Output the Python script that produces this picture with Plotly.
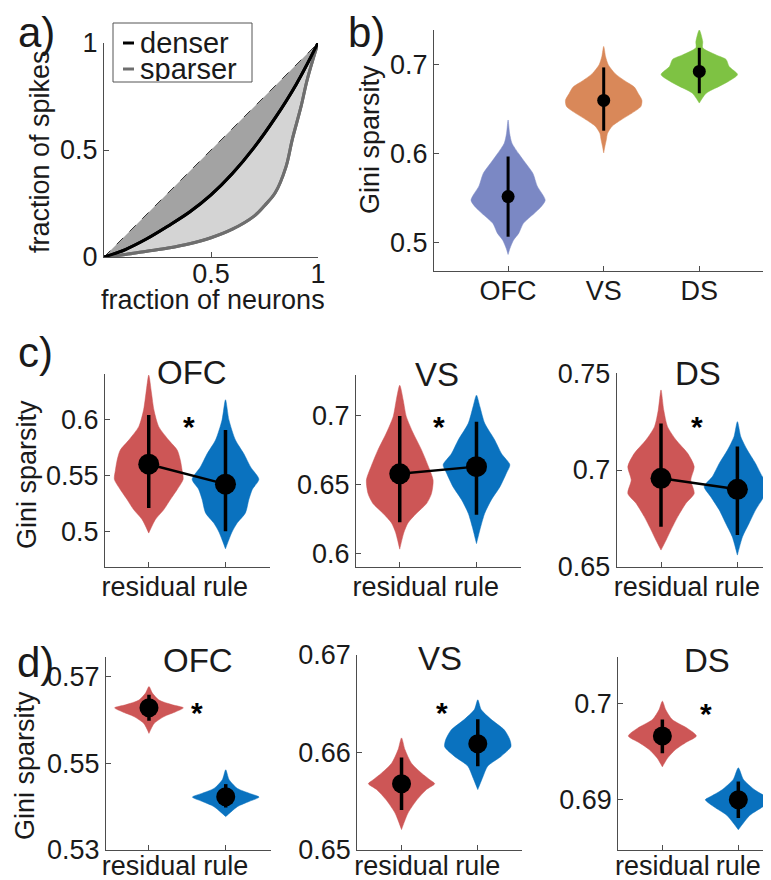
import plotly.graph_objects as go

# The page body has an 8px margin, so the figure is sized and laid out to
# land on the reference pixel grid once that offset is applied.
OFF = 8
FW, FH = 771 - OFF, 880 - OFF
FONT = "Liberation Sans, Arial, sans-serif"
TXT = "#1a1a1a"
AXC = "#4d4d4d"
RED = "#cd5656"
BLUE = "#0a72bf"
B_COLORS = ["#7b88c4", "#d98859", "#7ec243"]

# ---------------- panel a : Lorenz curves ----------------
frac_neurons = [0, 0.1, 0.2, 0.3, 0.4, 0.5, 0.6, 0.7, 0.8, 0.9, 1.0]
denser_spikes = [0, 0.035, 0.085, 0.145, 0.21, 0.29, 0.39, 0.51, 0.65, 0.81, 1.0]
sparse_neurons = [0, 0.1, 0.2, 0.3, 0.4, 0.5, 0.6, 0.7, 0.75, 0.8, 0.85, 0.88, 0.92, 0.95, 1.0]
sparser_spikes = [0, 0.012, 0.027, 0.042, 0.062, 0.09, 0.13, 0.19, 0.24, 0.3, 0.42, 0.55, 0.70, 0.83, 1.0]
equality_line = [0, 1]

# ---------------- panel b : Gini per region ----------------
regions = ["OFC", "VS", "DS"]
b_median = [0.552, 0.660, 0.6925]
b_low = [0.507, 0.626, 0.668]
b_high = [0.597, 0.697, 0.719]
b_ofc_vals = [0.638, 0.623, 0.612, 0.600, 0.590, 0.578, 0.564, 0.548, 0.540, 0.533, 0.522, 0.511, 0.503, 0.494, 0.487]
b_ofc_dens = [0, 0.04, 0.10, 0.28, 0.45, 0.65, 0.76, 0.97, 0.85, 0.68, 0.40, 0.28, 0.14, 0.05, 0]
b_vs_vals = [0.7206, 0.709, 0.700, 0.690, 0.682, 0.675, 0.668, 0.660, 0.653, 0.646, 0.638, 0.631, 0.623, 0.616, 0.608, 0.601]
b_vs_dens = [0, 0.05, 0.12, 0.30, 0.55, 0.80, 0.90, 1.0, 0.97, 0.75, 0.45, 0.22, 0.10, 0.07, 0.03, 0]
b_ds_vals = [0.739, 0.726, 0.719, 0.711, 0.706, 0.698, 0.689, 0.681, 0.676, 0.668, 0.657]
b_ds_dens = [0, 0.09, 0.09, 0.44, 0.70, 0.78, 1.0, 0.75, 0.53, 0.18, 0]

# ---------------- panel c : full population ----------------
conditions = ["residual", "rule"]
c_med_res = [0.5605, 0.6575, 0.6957]
c_lo_res = [0.5214, 0.6224, 0.6707]
c_hi_res = [0.6045, 0.6993, 0.7241]
c_med_rule = [0.5427, 0.6627, 0.6900]
c_lo_rule = [0.5006, 0.6279, 0.6664]
c_hi_rule = [0.5911, 0.6952, 0.7121]

c_ofc_res_vals = [0.640, 0.624, 0.609, 0.594, 0.582, 0.573, 0.564, 0.555, 0.547, 0.538, 0.529, 0.520, 0.511, 0.499]
c_ofc_res_dens = [0, 0.08, 0.15, 0.29, 0.58, 0.83, 0.92, 0.97, 1.0, 0.83, 0.63, 0.44, 0.19, 0]
c_ofc_rule_vals = [0.618, 0.600, 0.582, 0.570, 0.558, 0.547, 0.538, 0.529, 0.517, 0.508, 0.500, 0.485]
c_ofc_rule_dens = [0, 0.10, 0.29, 0.53, 0.73, 0.97, 0.78, 0.68, 0.58, 0.34, 0.19, 0]
c_vs_res_vals = [0.7216, 0.711, 0.699, 0.687, 0.675, 0.663, 0.653, 0.643, 0.636, 0.629, 0.622, 0.615, 0.603]
c_vs_res_dens = [0, 0.10, 0.19, 0.39, 0.63, 0.83, 0.97, 0.92, 0.78, 0.49, 0.24, 0.12, 0]
c_vs_rule_vals = [0.7144, 0.706, 0.694, 0.682, 0.672, 0.664, 0.658, 0.648, 0.639, 0.629, 0.619, 0.607]
c_vs_rule_dens = [0, 0.10, 0.24, 0.53, 0.73, 0.97, 0.87, 0.68, 0.44, 0.24, 0.12, 0]
c_ds_res_vals = [0.7414, 0.731, 0.7224, 0.7155, 0.7086, 0.7017, 0.6948, 0.6879, 0.6828, 0.6759, 0.669, 0.6638, 0.6586]
c_ds_res_dens = [0, 0.08, 0.19, 0.44, 0.78, 0.97, 0.87, 0.97, 0.73, 0.49, 0.29, 0.15, 0]
c_ds_rule_vals = [0.725, 0.7172, 0.7103, 0.7034, 0.6966, 0.6914, 0.6862, 0.6793, 0.6724, 0.6655, 0.656]
c_ds_rule_dens = [0, 0.10, 0.29, 0.53, 0.73, 0.97, 0.78, 0.53, 0.34, 0.15, 0]
c_star = [0.601, 0.6976, 0.7267]

# ---------------- panel d : bootstrap of means ----------------
d_med_res = [0.5628, 0.6568, 0.6966]
d_lo_res = [0.5598, 0.6541, 0.6948]
d_hi_res = [0.5658, 0.6595, 0.6983]
d_med_rule = [0.5423, 0.6609, 0.6900]
d_lo_rule = [0.5398, 0.6586, 0.6881]
d_hi_rule = [0.5452, 0.6634, 0.6919]

d_ofc_res_vals = [0.5677, 0.5662, 0.5646, 0.5635, 0.5628, 0.5619, 0.5608, 0.5592, 0.5569]
d_ofc_res_dens = [0, 0.10, 0.29, 0.68, 1.0, 0.78, 0.44, 0.15, 0]
d_ofc_rule_vals = [0.5485, 0.5462, 0.5442, 0.5431, 0.5422, 0.5412, 0.5400, 0.5377]
d_ofc_rule_dens = [0, 0.10, 0.34, 0.68, 0.97, 0.68, 0.34, 0]
d_vs_res_vals = [0.6615, 0.6603, 0.6589, 0.6579, 0.6572, 0.6568, 0.6562, 0.6551, 0.6538, 0.6521]
d_vs_res_dens = [0, 0.10, 0.29, 0.58, 0.83, 0.97, 0.73, 0.44, 0.19, 0]
d_vs_rule_vals = [0.6654, 0.6644, 0.6634, 0.6623, 0.6613, 0.6606, 0.6596, 0.6586, 0.6575, 0.6562]
d_vs_rule_dens = [0, 0.10, 0.39, 0.78, 0.94, 0.97, 0.68, 0.29, 0.15, 0]
d_ds_res_vals = [0.7002, 0.6993, 0.6983, 0.6974, 0.6966, 0.6959, 0.6952, 0.6943, 0.6934]
d_ds_res_dens = [0, 0.10, 0.29, 0.73, 1.0, 0.68, 0.39, 0.15, 0]
d_ds_rule_vals = [0.6933, 0.6921, 0.6910, 0.6903, 0.6900, 0.6893, 0.6884, 0.6876, 0.6869]
d_ds_rule_dens = [0, 0.15, 0.49, 0.83, 0.97, 0.73, 0.34, 0.15, 0]
d_star = [0.5635, 0.6649, 0.6998]

star_x_c = [1.53, 1.51, 1.47]
star_x_d = [1.62, 1.53, 1.58]

# tick labels
a_ticks = [0, 0.5, 1]
b_yticks = [0.5, 0.6, 0.7]
c_yticks = [[0.5, 0.55, 0.6], [0.6, 0.65, 0.7], [0.65, 0.7, 0.75]]
d_yticks = [[0.53, 0.55, 0.57], [0.65, 0.66, 0.67], [0.69, 0.7]]


def px(x):
    return min(1.0, (x - OFF) / FW)


def py(y):
    return 1 - (y - OFF) / FH


fig = go.Figure()


def violin(xc, vals, dens, half, color, xa, ya):
    xs = [xc + d * half for d in dens] + [xc - d * half for d in reversed(dens)]
    ys = list(vals) + list(reversed(vals))
    fig.add_trace(go.Scatter(x=xs, y=ys, mode="lines", fill="toself", fillcolor=color,
                             line=dict(color=color, width=0.5, shape="spline", smoothing=0.7),
                             xaxis=xa, yaxis=ya, showlegend=False, hoverinfo="skip"))


def interval(xc, lo, hi, width, xa, ya):
    fig.add_trace(go.Scatter(x=[xc, xc], y=[lo, hi], mode="lines",
                             line=dict(color="black", width=width),
                             xaxis=xa, yaxis=ya, showlegend=False, hoverinfo="skip"))


def dots(xs, ys, size, xa, ya, connect=False, lw=2.5):
    fig.add_trace(go.Scatter(x=xs, y=ys, mode="lines+markers" if connect else "markers",
                             marker=dict(color="black", size=size),
                             line=dict(color="black", width=lw),
                             xaxis=xa, yaxis=ya, showlegend=False, hoverinfo="skip"))


# ---- panel a traces ----
fig.add_trace(go.Scatter(x=sparse_neurons, y=sparser_spikes, mode="lines",
                         line=dict(color="#6e6e6e", width=3, shape="spline"),
                         xaxis="x", yaxis="y", showlegend=False))
fig.add_trace(go.Scatter(x=frac_neurons, y=denser_spikes, mode="lines", fill="tonexty",
                         fillcolor="#d4d4d4", line=dict(color="black", width=3, shape="spline"),
                         xaxis="x", yaxis="y", showlegend=False))
fig.add_trace(go.Scatter(x=equality_line, y=equality_line, mode="lines", fill="tonexty",
                         fillcolor="#a3a3a3", line=dict(color="#333333", width=1, dash="dash"),
                         xaxis="x", yaxis="y", showlegend=False))
fig.add_trace(go.Scatter(x=sparse_neurons, y=sparser_spikes, mode="lines",
                         line=dict(color="#6e6e6e", width=3, shape="spline"),
                         xaxis="x", yaxis="y", showlegend=False))
fig.add_trace(go.Scatter(x=frac_neurons, y=denser_spikes, mode="lines",
                         line=dict(color="black", width=3, shape="spline"),
                         xaxis="x", yaxis="y", showlegend=False))

# ---- panel b traces ----
B_HALF = 0.40
for i, (vals, dens) in enumerate([(b_ofc_vals, b_ofc_dens), (b_vs_vals, b_vs_dens), (b_ds_vals, b_ds_dens)]):
    violin(i + 1, vals, dens, B_HALF, B_COLORS[i], "x2", "y2")
for i in range(3):
    interval(i + 1, b_low[i], b_high[i], 3, "x2", "y2")
dots([1, 2, 3], b_median, 13, "x2", "y2")

# ---- panel c / d traces ----
CD_HALF = 0.448
c_shapes = [(c_ofc_res_vals, c_ofc_res_dens, c_ofc_rule_vals, c_ofc_rule_dens),
            (c_vs_res_vals, c_vs_res_dens, c_vs_rule_vals, c_vs_rule_dens),
            (c_ds_res_vals, c_ds_res_dens, c_ds_rule_vals, c_ds_rule_dens)]
d_shapes = [(d_ofc_res_vals, d_ofc_res_dens, d_ofc_rule_vals, d_ofc_rule_dens),
            (d_vs_res_vals, d_vs_res_dens, d_vs_rule_vals, d_vs_rule_dens),
            (d_ds_res_vals, d_ds_res_dens, d_ds_rule_vals, d_ds_rule_dens)]

for k in range(3):
    xa, ya = "x%d" % (3 + k), "y%d" % (3 + k)
    rv, rd, uv, ud = c_shapes[k]
    violin(1, rv, rd, CD_HALF, RED, xa, ya)
    violin(2, uv, ud, CD_HALF, BLUE, xa, ya)
    interval(1, c_lo_res[k], c_hi_res[k], 3.5, xa, ya)
    interval(2, c_lo_rule[k], c_hi_rule[k], 3.5, xa, ya)
    dots([1, 2], [c_med_res[k], c_med_rule[k]], 21, xa, ya, connect=True)

for k in range(3):
    xa, ya = "x%d" % (6 + k), "y%d" % (6 + k)
    rv, rd, uv, ud = d_shapes[k]
    violin(1, rv, rd, CD_HALF, RED, xa, ya)
    violin(2, uv, ud, CD_HALF, BLUE, xa, ya)
    interval(1, d_lo_res[k], d_hi_res[k], 3.5, xa, ya)
    interval(2, d_lo_rule[k], d_hi_rule[k], 3.5, xa, ya)
    dots([1, 2], [d_med_res[k], d_med_rule[k]], 19, xa, ya)


# ---- axes ----
def fmt(v):
    s = ("%.2f" % v).rstrip("0").rstrip(".")
    return s


def axis(domain, rng, anchor, tickvals, ticktext, standoff=0):
    return dict(domain=domain, range=rng, anchor=anchor, showline=True, linecolor=AXC,
                linewidth=1, ticks="inside", ticklen=5, tickcolor=AXC, tickwidth=1,
                tickvals=tickvals, ticktext=ticktext, automargin=False,
                ticklabelstandoff=standoff,
                tickfont=dict(size=27, color=TXT, family=FONT),
                showgrid=False, zeroline=False, fixedrange=True, mirror=False)


layout = dict(
    template="none",
    width=FW, height=FH, margin=dict(l=0, r=0, t=0, b=0, pad=0, autoexpand=False),
    paper_bgcolor="white", plot_bgcolor="rgba(0,0,0,0)",
    font=dict(family=FONT, color=TXT), showlegend=False,
)

XSO = -4
# panel a
layout["xaxis"] = axis([px(104), px(318)], [0, 1], "y", [0.5, 1], ["0.5", "1"], -7)
layout["yaxis"] = axis([py(257), py(43)], [0, 1], "x", a_ticks, [fmt(v) for v in a_ticks])
# panel b
layout["xaxis2"] = axis([px(434), px(771)], [0.225, 3.75], "y2", [1, 2, 3], regions, XSO)
layout["yaxis2"] = axis([py(271), py(30)], [0.4685, 0.739], "x2", b_yticks, [fmt(v) for v in b_yticks])

c_dom_x = [[105, 270], [356, 521], [616.7, 771]]
c_dom_y = [[566.7, 374], [566.7, 375], [566.7, 373.3]]
c_rng_y = [[0.469, 0.641], [0.5903, 0.729], [0.65, 0.75]]
c_rng_x = [[0.43, 2.58], [0.43, 2.58], [0.42, 2.44]]
d_dom_x = [[106, 271], [357.3, 522], [618.3, 771]]
d_dom_y = [[850, 656.7], [850, 655], [850, 656.7]]
d_rng_y = [[0.53, 0.5746], [0.65, 0.67], [0.6848, 0.7048]]
d_rng_x = [[0.44, 2.59], [0.42, 2.58], [0.42, 2.43]]

for k in range(3):
    n = 3 + k
    layout["xaxis%d" % n] = axis([px(c_dom_x[k][0]), px(c_dom_x[k][1])], c_rng_x[k], "y%d" % n,
                                 [1, 2], conditions, XSO)
    layout["yaxis%d" % n] = axis([py(c_dom_y[k][0]), py(c_dom_y[k][1])], c_rng_y[k], "x%d" % n,
                                 c_yticks[k], [fmt(v) for v in c_yticks[k]])
    n = 6 + k
    layout["xaxis%d" % n] = axis([px(d_dom_x[k][0]), px(d_dom_x[k][1])], d_rng_x[k], "y%d" % n,
                                 [1, 2], conditions, -8)
    layout["yaxis%d" % n] = axis([py(d_dom_y[k][0]), py(d_dom_y[k][1])], d_rng_y[k], "x%d" % n,
                                 d_yticks[k], [fmt(v) for v in d_yticks[k]])

fig.update_layout(**layout)

# ---- annotations ----
ann = []


def text(x, y, s, size, angle=0, xanchor="center", yanchor="middle", height=None):
    a = dict(x=px(x), y=py(y), xref="paper", yref="paper", text=s, showarrow=False,
             font=dict(size=size, color=TXT, family=FONT), textangle=angle,
             xanchor=xanchor, yanchor=yanchor)
    if height is not None:
        a["height"] = height
    ann.append(a)


text(36, 32, "a)", 42)
text(366, 32, "b)", 42)
text(35, 352, "c)", 42)
text(35, 662, "d)", 42)
text(40, 152, "fraction of spikes", 27, angle=-90)
text(213, 300, "fraction of neurons", 27, height=26)
text(370, 140, "Gini sparsity", 27, angle=-90)
text(27, 475, "Gini sparsity", 27, angle=-90)
text(25, 766, "Gini sparsity", 27, angle=-90)

c_title_pos = [(192, 372), (437, 374), (698, 373)]
d_title_pos = [(198, 660), (440, 658), (707, 660)]
for k in range(3):
    text(c_title_pos[k][0], c_title_pos[k][1], regions[k], 33)
    text(d_title_pos[k][0], d_title_pos[k][1], regions[k], 33)
    ann.append(dict(x=star_x_c[k], y=c_star[k], xref="x%d" % (3 + k), yref="y%d" % (3 + k),
                    text="<b>*</b>", showarrow=False, yshift=-8,
                    font=dict(size=30, color="black", family=FONT)))
    ann.append(dict(x=star_x_d[k], y=d_star[k], xref="x%d" % (6 + k), yref="y%d" % (6 + k),
                    text="<b>*</b>", showarrow=False, yshift=-8,
                    font=dict(size=30, color="black", family=FONT)))

# legend of panel a (drawn by hand, MATLAB style)
text(138, 42, "denser", 29, xanchor="left", height=25)
text(138, 68, "sparser", 29, xanchor="left", height=25)

shapes = [
    dict(type="rect", xref="paper", yref="paper", x0=px(113), x1=px(252), y0=py(82), y1=py(23),
         line=dict(color="#555555", width=1), fillcolor="white", layer="above"),
    dict(type="line", xref="paper", yref="paper", x0=px(123), x1=px(134), y0=py(43), y1=py(43),
         line=dict(color="black", width=3)),
    dict(type="line", xref="paper", yref="paper", x0=px(123), x1=px(134), y0=py(69), y1=py(69),
         line=dict(color="#6e6e6e", width=3)),
]

fig.update_layout(annotations=ann, shapes=shapes)
fig.write_html("out.html")
